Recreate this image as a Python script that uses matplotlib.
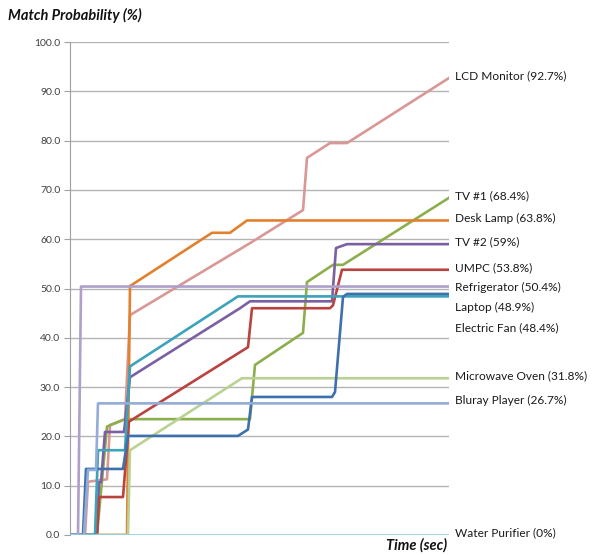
import matplotlib
matplotlib.use("Agg")
import matplotlib.pyplot as plt

plt.rcParams['font.family'] = ['Lato', 'DejaVu Sans']

# time (sec) / match probability (%) per appliance
names = ["LCD Monitor", "TV #1", "Desk Lamp", "TV #2", "UMPC", "Microwave Oven",
         "Electric Fan", "Laptop", "Refrigerator", "Bluray Player", "Water Purifier"]
finals = ["92.7", "68.4", "63.8", "59", "53.8", "31.8", "48.4", "48.9", "50.4", "26.7", "0"]
colors = ["#d99795", "#8cae4c", "#e2802e", "#7b5fa3", "#b8433f", "#b9d293",
          "#3ca3ba", "#3f70ae", "#ae9fcb", "#93acd8", "#8ccfe0"]

lcd_t = [0, 1.5, 1.8, 3.7, 4.0, 5.5, 6.0, 18.0, 23.3, 23.7, 26.0, 27.7, 37.9]
lcd_v = [0, 0, 10.8, 11.3, 22.3, 23.5, 44.6, 59.2, 65.9, 76.5, 79.5, 79.5, 92.7]
tv1_t = [0, 2.7, 3.2, 3.7, 5.5, 18.0, 18.5, 23.3, 23.7, 26.3, 27.3, 37.9]
tv1_v = [0, 0, 11.0, 22.0, 23.5, 23.5, 34.5, 41.0, 51.3, 54.8, 54.8, 68.4]
lamp_t = [0, 5.7, 6.0, 14.2, 16.0, 17.7, 37.9]
lamp_v = [0, 0, 50.5, 61.3, 61.3, 63.8, 63.8]
tv2_t = [0, 2.7, 2.9, 3.1, 3.5, 5.4, 6.0, 17.0, 18.0, 26.2, 26.6, 27.0, 27.7, 37.9]
tv2_v = [0, 0, 10.7, 10.7, 20.9, 20.9, 32.0, 46.0, 47.4, 47.4, 58.2, 58.5, 59.0, 59.0]
umpc_t = [0, 2.7, 2.9, 5.3, 5.9, 17.8, 18.2, 26.0, 26.3, 27.2, 37.9]
umpc_v = [0, 0, 7.7, 7.7, 23.0, 38.1, 46.0, 46.0, 46.6, 53.8, 53.8]
micro_t = [0, 5.8, 6.0, 17.2, 37.9]
micro_v = [0, 0, 17.2, 31.8, 31.8]
fan_t = [0, 2.5, 2.8, 5.5, 6.0, 16.8, 37.9]
fan_v = [0, 0, 17.2, 17.2, 34.2, 48.4, 48.4]
laptop_t = [0, 1.3, 1.6, 5.3, 5.8, 16.8, 17.8, 18.2, 26.2, 26.5, 27.3, 27.7, 37.9]
laptop_v = [0, 0, 13.4, 13.4, 20.1, 20.1, 21.4, 28.0, 28.0, 29.0, 48.3, 48.9, 48.9]
fridge_t = [0, 0.8, 1.1, 37.9]
fridge_v = [0, 0, 50.4, 50.4]
bluray_t = [0, 1.4, 1.8, 2.6, 2.8, 37.9]
bluray_v = [0, 0, 13.2, 13.2, 26.7, 26.7]
water_t = [0, 37.9]
water_v = [0, 0]

series_t = [lcd_t, tv1_t, lamp_t, tv2_t, umpc_t, micro_t, fan_t, laptop_t, fridge_t, bluray_t, water_t]
series_v = [lcd_v, tv1_v, lamp_v, tv2_v, umpc_v, micro_v, fan_v, laptop_v, fridge_v, bluray_v, water_v]

fig = plt.figure(figsize=(5.98, 5.55), dpi=100)
ax = fig.add_axes([70 / 598, 20 / 555, 379 / 598, 493 / 555])

for t, v, c in zip(series_t, series_v, colors):
    ax.plot(t, v, color=c, lw=1.9, solid_joinstyle='round', zorder=3)

ax.set_xlim(0, 37.9)
ax.set_ylim(0, 100)
ax.set_yticks(range(0, 101, 10))
ax.set_yticklabels(["%.1f" % y for y in range(0, 101, 10)], fontsize=7.5, color="#404040")
ax.set_xticks([])
ax.yaxis.grid(True, color="#b4b4b4", lw=1)
ax.set_axisbelow(True)
ax.tick_params(axis='y', length=4, color="#a0a0a0", pad=3)
for s in ["top", "right", "bottom"]:
    ax.spines[s].set_visible(False)
ax.spines["left"].set_color("#a0a0a0")

# end labels, pushed apart top-down so they don't overlap
order = sorted(range(len(names)), key=lambda i: -series_v[i][-1])
pos = {}
prev = None
for i in order:
    y = series_v[i][-1]
    if prev is not None and prev - y < 4.1:
        y = prev - 4.1
    pos[i] = y
    prev = y
for i in order:
    ax.annotate("%s (%s%%)" % (names[i], finals[i]), xy=(1.0, pos[i] + 0.5),
                xycoords=ax.get_yaxis_transform(), xytext=(4, 0),
                textcoords='offset points', va='center', ha='left',
                fontsize=8.6, color="#1a1a1a", annotation_clip=False)

fig.text(8 / 598, 1 - 15 / 555, "Match Probability (%)", fontsize=10.5,
         fontweight='bold', fontstyle='italic', va='center', ha='left', color="#111111")
fig.text(447 / 598, 10 / 555, "Time (sec)", fontsize=10.5,
         fontweight='bold', fontstyle='italic', va='center', ha='right', color="#111111")

fig.savefig("out.png", dpi=100)
